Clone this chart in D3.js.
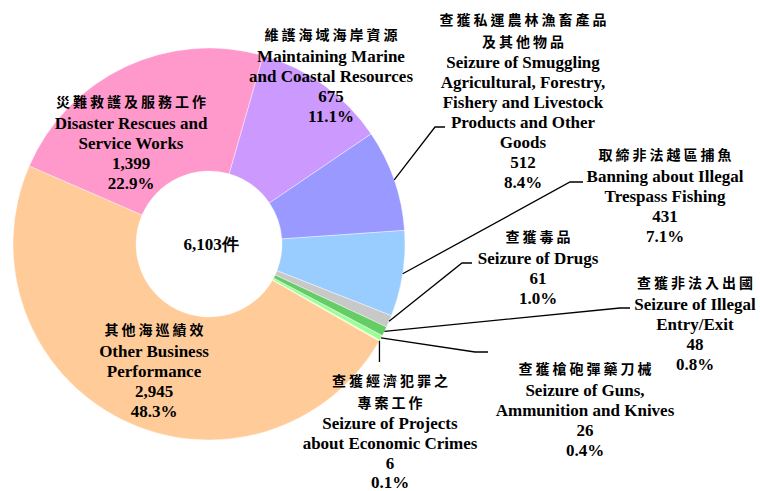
<!DOCTYPE html>
<html>
<head>
<meta charset="utf-8">
<script src="https://cdn.jsdelivr.net/npm/d3@7"></script>
<style>
  html, body { margin: 0; padding: 0; background: #ffffff; }
  #chart { width: 760px; height: 491px; }
  text { font-weight: bold; fill: #000; }
  .zh { font-family: "Noto Sans CJK TC", "Noto Sans CJK SC", sans-serif; font-size: 14px; letter-spacing: 3px; }
  .en { font-family: "Liberation Serif", "Times New Roman", serif; font-size: 17px; }
</style>
</head>
<body>
<div id="chart"></div>
<script>
// slices, clockwise from the first one
const categoriesZh = [
  ['維護海域海岸資源'],
  ['查獲私運農林漁畜產品', '及其他物品'],
  ['取締非法越區捕魚'],
  ['查獲毒品'],
  ['查獲非法入出國'],
  ['查獲槍砲彈藥刀械'],
  ['查獲經濟犯罪之', '專案工作'],
  ['其他海巡績效'],
  ['災難救護及服務工作'],
];
const categoriesEn = [
  ['Maintaining Marine', 'and Coastal Resources'],
  ['Seizure of Smuggling', 'Agricultural, Forestry,', 'Fishery and Livestock', 'Products and Other', 'Goods'],
  ['Banning about Illegal', 'Trespass Fishing'],
  ['Seizure of Drugs'],
  ['Seizure of Illegal', 'Entry/Exit'],
  ['Seizure of Guns,', 'Ammunition and Knives'],
  ['Seizure of Projects', 'about Economic Crimes'],
  ['Other Business', 'Performance'],
  ['Disaster Rescues and', 'Service Works'],
];
const counts = [675, 512, 431, 61, 48, 26, 6, 2945, 1399];
const percents = ['11.1%', '8.4%', '7.1%', '1.0%', '0.8%', '0.4%', '0.1%', '48.3%', '22.9%'];
const colors = ['#CC99FF', '#9999FF', '#99CCFF', '#C8C8C8', '#66CC66', '#99FF99', '#FFFF99', '#FFCC99', '#FF99CC'];
const totalLabel = '6,103件';

// label layout: text centre x, first baseline y, leader route (null = label sits on slice)
const labelLayout = [
  { x: 331, y: 40, leader: null },
  { x: 523, y: 25, leader: [[435, 127], [445, 127]] },
  { x: 665, y: 160, leader: [[570, 182], [583, 182]] },
  { x: 538, y: 242, leader: [[462, 263], [472, 263]] },
  { x: 695, y: 288, leader: [[620, 308], [630, 308]] },
  { x: 585, y: 374, leader: [[475, 352], [488, 352]] },
  { x: 390, y: 386, leader: [[null, 362]] },
  { x: 154, y: 335, leader: null },
  { x: 131, y: 107, leader: null },
];

const W = 760, H = 491;
const cx = 209, cy = 244;
const outerR = 196, innerR = 73;
const startDeg = 16;

const svg = d3.select('#chart')
  .append('svg')
  .attr('width', W)
  .attr('height', H);

const pie = d3.pie()
  .sort(null)
  .value(d => d)
  .startAngle(startDeg * Math.PI / 180)
  .endAngle(startDeg * Math.PI / 180 + 2 * Math.PI);

const arcs = pie(counts);
const arc = d3.arc().innerRadius(innerR).outerRadius(outerR);

const g = svg.append('g')
  .attr('transform', 'translate(' + cx + ',' + cy + ')');

g.selectAll('path.slice')
  .data(arcs)
  .enter()
  .append('path')
  .attr('class', 'slice')
  .attr('d', arc)
  .attr('fill', (d, i) => colors[i])
  .attr('stroke', '#ffffff')
  .attr('stroke-width', 0.4);

g.append('text')
  .attr('class', 'en')
  .attr('x', 2)
  .attr('y', 6)
  .attr('text-anchor', 'middle')
  .style('font-size', '17px')
  .text(totalLabel);

// leader lines from outer edge at slice middle
const edgePoint = d => {
  const a = (d.startAngle + d.endAngle) / 2;
  return [cx + outerR * Math.sin(a), cy - outerR * Math.cos(a)];
};

arcs.forEach((d, i) => {
  const lay = labelLayout[i];
  if (!lay.leader) return;
  const p0 = edgePoint(d);
  const pts = [p0].concat(lay.leader.map(p => [p[0] === null ? p0[0] : p[0], p[1]]));
  svg.append('path')
    .attr('d', d3.line()(pts))
    .attr('fill', 'none')
    .attr('stroke', '#000')
    .attr('stroke-width', 1.3);
});

// labels
arcs.forEach((d, i) => {
  const lay = labelLayout[i];
  const lines = [];
  categoriesZh[i].forEach(t => lines.push({ t, cls: 'zh' }));
  categoriesEn[i].forEach(t => lines.push({ t, cls: 'en' }));
  lines.push({ t: d3.format(',')(counts[i]), cls: 'en' });
  lines.push({ t: percents[i], cls: 'en' });
  let y = lay.y;
  const last = lines.length - 1;
  lines.forEach((l, k) => {
    svg.append('text')
      .attr('class', l.cls)
      .attr('x', l.cls === 'zh' ? lay.x + 1.5 : lay.x)
      .attr('y', y)
      .attr('text-anchor', 'middle')
      .text(l.t);
    y += l.cls === 'zh' ? 21.5 : (k === last - 1 && i === 6 ? 18.5 : 20);
  });
});
</script>
</body>
</html>
